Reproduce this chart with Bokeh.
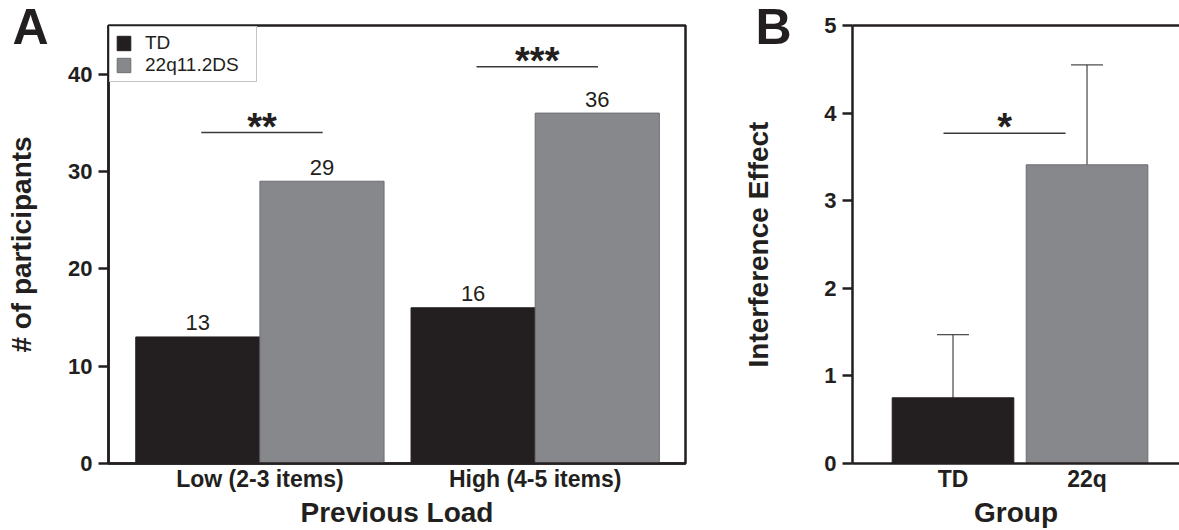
from bokeh.plotting import figure
from bokeh.models import (Range1d, FixedTicker, ColumnDataSource, Whisker, TeeHead, LinearAxis)
from bokeh.layouts import row
from bokeh.embed import file_html
from bokeh.resources import INLINE
from bokeh.core.properties import value

# ---------------- data ----------------
categories = ["Low (2-3 items)", "High (4-5 items)"]
td_counts = [13, 16]
dq_counts = [29, 36]
sig_labels_a = ["**", "***"]
sig_y_a = [34.0, 40.75]
y_ticks_a = [0, 10, 20, 30, 40]

groups_b = ["TD", "22q"]
interference = [0.75, 3.41]
interference_err = [0.72, 1.14]
sig_label_b = ["*"]
sig_y_b = [3.77]
y_ticks_b = [0, 1, 2, 3, 4, 5]

# ---------------- style ----------------
FONT = "Liberation Sans"
INK = "#231f20"
GREY = "#87888c"
GREY_EDGE = "#6d6e71"

H = 530
TOP = 25
BOTTOM = 66


def style_axes(p):
    for ax in p.axis:
        ax.axis_line_width = 2.5
        ax.axis_line_color = INK
        ax.major_tick_line_width = 2.5
        ax.major_tick_line_color = INK
        ax.major_tick_in = 0
        ax.major_tick_out = 10
        ax.minor_tick_line_color = None
        ax.major_label_text_font = FONT
        ax.major_label_text_font_style = "bold"
        ax.major_label_text_color = INK
        ax.major_label_text_font_size = "22px"
        ax.axis_label_text_font = FONT
        ax.axis_label_text_font_style = "bold"
        ax.axis_label_text_font_size = "28px"
        ax.axis_label_text_color = INK
    p.xaxis.major_tick_line_color = None
    p.xaxis.major_tick_out = 0
    p.xaxis.major_label_text_font_size = "23px"
    p.xaxis.major_label_standoff = 2
    p.xaxis.axis_label_standoff = 2
    p.yaxis.major_label_standoff = 6
    p.xgrid.grid_line_color = None
    p.ygrid.grid_line_color = None


def panel_letter(p, letter, dx):
    # letter drawn just outside the frame's top-left corner (overlay level, not clipped)
    src = ColumnDataSource(dict(x=[p.x_range.start], y=[p.y_range.end], t=[letter]))
    p.text(x="x", y="y", text="t", source=src, text_font=value(FONT),
           text_font_style="bold", text_font_size="50px", text_color=INK,
           text_align="left", text_baseline="alphabetic", x_offset=dx, y_offset=1,
           level="overlay")


# ---------------- panel A ----------------
pos_a = [i + 1 for i in range(len(categories))]
half = 0.2255
bw = 0.451

pA = figure(width=700, height=H, x_range=Range1d(0.45, 2.546), y_range=Range1d(0, 45),
            output_backend="svg", toolbar_location=None,
            min_border_left=108, min_border_right=15, min_border_top=TOP,
            min_border_bottom=BOTTOM, background_fill_color="white",
            border_fill_color="white")
pA.outline_line_color = INK
pA.outline_line_width = 2.5
pA.outline_line_alpha = 1.0

src_td = ColumnDataSource(dict(x=[p - half for p in pos_a], top=td_counts,
                               lab=[str(v) for v in td_counts]))
src_dq = ColumnDataSource(dict(x=[p + half for p in pos_a], top=dq_counts,
                               lab=[str(v) for v in dq_counts]))

pA.vbar(x="x", top="top", width=bw, source=src_td, fill_color=INK, line_color=INK,
        line_width=1, legend_label="TD")
pA.vbar(x="x", top="top", width=bw, source=src_dq, fill_color=GREY, line_color=GREY_EDGE,
        line_width=1, legend_label="22q11.2DS")

for src in (src_td, src_dq):
    pA.text(x="x", y="top", text="lab", source=src, text_font=value(FONT),
            text_font_size="22px", text_color=INK, text_align="center",
            text_baseline="alphabetic", y_offset=-14)

sig_src_a = ColumnDataSource(dict(x0=[p - 0.213 for p in pos_a], x1=[p + 0.228 for p in pos_a],
                                  y=sig_y_a, xm=[p + 0.0075 for p in pos_a], lab=sig_labels_a))
pA.segment(x0="x0", y0="y", x1="x1", y1="y", source=sig_src_a, line_color="#3a3a3a",
           line_width=1.5)
pA.text(x="xm", y="y", text="lab", source=sig_src_a, text_font=value(FONT),
        text_font_style="bold", text_font_size="38px", text_color=INK,
        text_align="center", text_baseline="alphabetic", y_offset=-6)

pA.xaxis.ticker = FixedTicker(ticks=pos_a)
pA.xaxis.major_label_overrides = {p: c for p, c in zip(pos_a, categories)}
pA.xaxis.axis_label = "Previous Load"
pA.yaxis.ticker = FixedTicker(ticks=y_ticks_a)
pA.yaxis.axis_label = "# of participants"
style_axes(pA)
pA.yaxis.axis_label_standoff = 28

leg = pA.legend[0]
leg.location = "top_left"
leg.margin = 1
leg.padding = 5
leg.spacing = -1
leg.glyph_width = 17
leg.glyph_height = 18
leg.label_height = 18
leg.label_width = 106
leg.label_standoff = 13
leg.label_text_font = FONT
leg.label_text_font_size = "19px"
leg.label_text_line_height = 1.0
leg.label_text_color = INK
leg.border_line_color = "#8a8a8a"
leg.border_line_width = 1
leg.background_fill_color = "white"
leg.background_fill_alpha = 1.0

panel_letter(pA, "A", -96)

# ---------------- panel B ----------------
pos_b = [i + 1 for i in range(len(groups_b))]
bw_b = 0.9075

pB = figure(width=479, height=H, x_range=Range1d(0.25, 2.69), y_range=Range1d(0, 5),
            output_backend="svg", toolbar_location=None,
            min_border_left=152, min_border_right=0, min_border_top=TOP,
            min_border_bottom=BOTTOM, background_fill_color="white",
            border_fill_color="white")
pB.outline_line_color = None

src_b = ColumnDataSource(dict(
    x=pos_b, top=interference,
    upper=[m + e for m, e in zip(interference, interference_err)],
    lower=[m - e for m, e in zip(interference, interference_err)],
    fill=[INK, GREY], edge=[INK, GREY_EDGE]))
pB.vbar(x="x", top="top", width=bw_b, source=src_b, fill_color="fill", line_color="edge",
        line_width=1)
pB.add_layout(Whisker(source=src_b, base="x", upper="upper", lower="lower",
                      line_color=INK, line_width=1,
                      upper_head=TeeHead(size=32, line_color=INK, line_width=1),
                      lower_head=TeeHead(size=32, line_color=INK, line_width=1)))

sig_src_b = ColumnDataSource(dict(x0=[0.929], x1=[1.84], y=sig_y_b, xm=[1.385], lab=sig_label_b))
pB.segment(x0="x0", y0="y", x1="x1", y1="y", source=sig_src_b, line_color="#3a3a3a",
           line_width=1.5)
pB.text(x="xm", y="y", text="lab", source=sig_src_b, text_font=value(FONT),
        text_font_style="bold", text_font_size="38px", text_color=INK,
        text_align="center", text_baseline="alphabetic", y_offset=-6)

pB.xaxis.ticker = FixedTicker(ticks=pos_b)
pB.xaxis.major_label_overrides = {p: g for p, g in zip(pos_b, groups_b)}
pB.xaxis.axis_label = "Group"
pB.yaxis.ticker = FixedTicker(ticks=y_ticks_b)
pB.yaxis.axis_label = "Interference Effect"
top_axis = LinearAxis(ticker=FixedTicker(ticks=[]))
pB.add_layout(top_axis, "above")
style_axes(pB)
pB.yaxis.axis_label_standoff = 47
top_axis.major_tick_out = 0
top_axis.major_label_standoff = 0

panel_letter(pB, "B", -97)

layout = row(pA, pB)
open("out.html", "w").write(file_html(layout, INLINE))
